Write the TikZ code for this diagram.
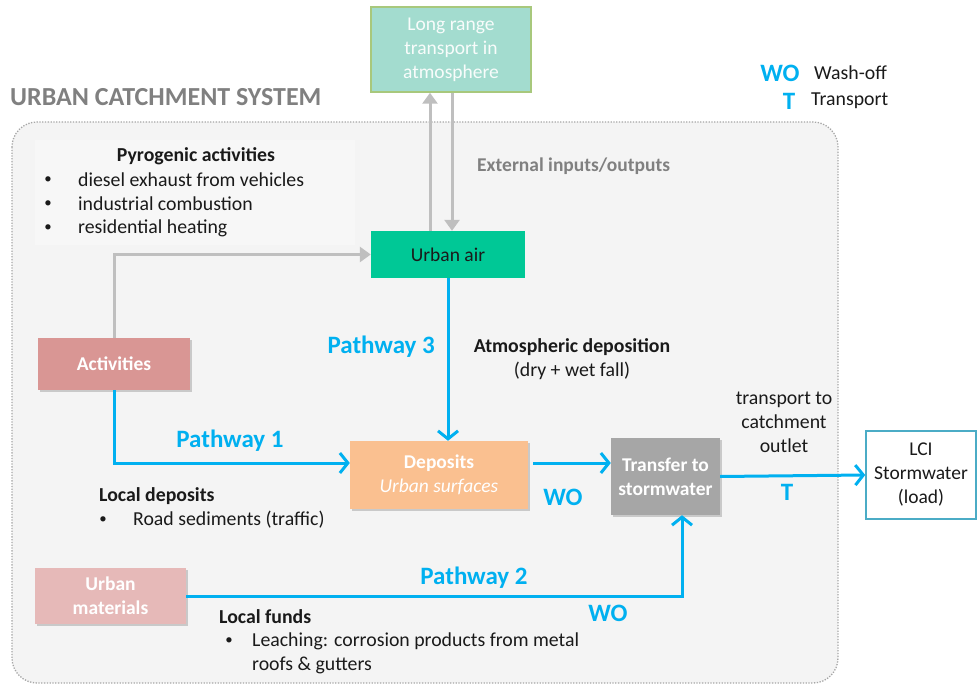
\documentclass[tikz,border=0pt]{standalone}
\usepackage{fontspec}
\setmainfont{Carlito}
\usetikzlibrary{arrows.meta}
\usetikzlibrary{positioning}
\usetikzlibrary{shadows}
\definecolor{pathblue}{HTML}{00B0F0}
\definecolor{arrowgray}{HTML}{BFBFBF}
\definecolor{areagray}{HTML}{F4F4F4}
\definecolor{linegray}{HTML}{A6A6A6}
\definecolor{titlegray}{HTML}{808080}
\definecolor{darktext}{HTML}{1A1A1A}
\definecolor{lrfill}{HTML}{A3DCCF}
\definecolor{lrdraw}{HTML}{A8C87C}
\definecolor{airfill}{HTML}{00C896}
\definecolor{actfill}{HTML}{D99694}
\definecolor{umfill}{HTML}{E6B9B8}
\definecolor{depfill}{HTML}{FAC090}
\definecolor{trfill}{HTML}{A6A6A6}
\definecolor{lcidraw}{HTML}{4BACC6}
\newcommand{\bul}{\scalebox{0.75}{\textbullet}}
\tikzset{box/.style = {inner sep=2pt, align=center,
                       font=\fontsize{19.5}{24}\selectfont}}
\tikzset{shadowbox/.style = {box, drop shadow={shadow xshift=2pt, shadow yshift=-2pt,
                                               opacity=0.3, fill=black!60}}}
\tikzset{txt/.style = {inner sep=0, text=darktext, font=\fontsize{19.8}{24}\selectfont}}
\tikzset{lbl/.style = {inner sep=0, text=pathblue, font=\fontsize{25}{30}\selectfont\bfseries}}
\tikzset{bluearrow/.style = {draw=pathblue, line width=3pt,
                             -{Straight Barb[length=8pt,width=20pt,line width=3pt]}}}
\tikzset{grayarrow/.style = {draw=arrowgray, line width=3pt,
                             -{Triangle[length=11pt,width=15pt]}}}

\begin{document}
\begin{tikzpicture}[x=1pt, y=-1pt]
      \useasboundingbox (0,0) rectangle (977,684);

      % catchment area
      \draw [draw=linegray, fill=areagray, line width=1.3pt, dash pattern=on 1.3pt off 1.5pt,
             rounded corners=25pt] (12,122) rectangle (838,683);
      \node [inner sep=0, anchor=west, text=titlegray, font=\fontsize{26}{30}\selectfont\bfseries]
        (title) at (10,97) {URBAN CATCHMENT SYSTEM};
      \fill [white, opacity=0.35] (35,140) rectangle (355,245);

      % boxes
      \node [box, fill=lrfill, draw=lrdraw, line width=1.5pt, text=white!92!lrfill,
             minimum width=160pt, minimum height=85pt] (lr) at (451,49.5)
        {Long range\\transport in\\atmosphere};
      \node [box, fill=airfill, text=darktext, minimum width=154pt, minimum height=47pt]
        (air) at (448,254.5) {Urban air};
      \node [shadowbox, fill=actfill, text=white, font=\fontsize{19.5}{24}\selectfont\bfseries,
             minimum width=152pt, minimum height=52pt] (act) at (114,364) {Activities};
      \node [shadowbox, fill=depfill, text=white, minimum width=178pt, minimum height=68pt]
        (dep) at (439,475) {\textbf{Deposits}\\\textit{Urban surfaces}};
      \node [shadowbox, fill=trfill, text=white, font=\fontsize{19.5}{24}\selectfont\bfseries,
             minimum width=109pt, minimum height=77pt] (tr) at (665.5,476.5)
        {Transfer to\\stormwater};
      \node [box, fill=white, draw=lcidraw, line width=1.5pt, text=darktext,
             minimum width=110pt, minimum height=88pt] (lci) at (921,475)
        {LCI\\Stormwater\\(load)};
      \node [shadowbox, fill=umfill, text=white, font=\fontsize{19.5}{24}\selectfont\bfseries,
             minimum width=151pt, minimum height=56pt] (um) at (110.5,596) {Urban\\materials};

      % gray connectors
      \draw [grayarrow] (act.north) |- (air.west);
      \draw [grayarrow] ([xshift=-18pt]air.north) -- ([xshift=-18pt]air.north |- lr.south);
      \draw [grayarrow] ([xshift=4pt]air.north |- lr.south) -- ([xshift=4pt]air.north);

      % blue pathways
      \draw [bluearrow] (air.south) -- (air.south |- dep.north);
      \draw [bluearrow] (act.south) |- ([yshift=12pt]dep.west);
      \draw [bluearrow] ([shift={(5pt,12pt)}]dep.east) -- ([yshift=12pt]dep.east -| tr.west);
      \draw [bluearrow] (tr.east) -- (lci.west);
      \draw [bluearrow] (um.east) -| ([xshift=16.5pt]tr.south);

      % labels
      \node [txt, anchor=west, text=titlegray, font=\fontsize{19.5}{24}\selectfont\bfseries]
        (ext) at (477,166) {External inputs/outputs};
      \node [lbl, anchor=east] (pw3) at (435,347) {Pathway 3};
      \node [txt, align=center] (atm) at (572,359)
        {\textbf{Atmospheric deposition}\\(dry + wet fall)};
      \node [lbl] (pw1) at (230,441) {Pathway 1};
      \node [lbl] (wo1) at (563,497) {WO};
      \node [txt, align=center] (outlet) at (784,422) {transport to\\catchment\\outlet};
      \node [lbl] (tlab) at (787,492) {T};
      \node [lbl] (pw2) at (474,578) {Pathway 2};
      \node [lbl] (wo2) at (608,613) {WO};

      % text blocks
      \node [txt, font=\fontsize{19.8}{24}\selectfont\bfseries] (pyro) at (196,156)
        {Pyrogenic activities};
      \node [txt] (pyroa) at (48,180) {\bul};
      \node [txt, anchor=west] (pyroat) at (78,180) {diesel exhaust from vehicles};
      \node [txt] (pyrob) at (48,204) {\bul};
      \node [txt, anchor=west] (pyrobt) at (78,204) {industrial combustion};
      \node [txt] (pyroc) at (48,228) {\bul};
      \node [txt, anchor=west] (pyroct) at (78,228) {residential heating};

      \node [txt, anchor=west, font=\fontsize{19.8}{24}\selectfont\bfseries] (locdep) at (99,496)
        {Local deposits};
      \node [txt] (locdepa) at (103,520) {\bul};
      \node [txt, anchor=west] (locdepat) at (133,520) {Road sediments (traffic)};

      \node [txt, anchor=west, font=\fontsize{19.8}{24}\selectfont\bfseries] (locfund) at (219,617)
        {Local funds};
      \node [txt] (locfunda) at (229,641) {\bul};
      \node [txt, anchor=west, align=left] (locfundat) at (252,653)
        {Leaching: corrosion products from metal\\roofs \& gutters};

      % legend
      \node [lbl] (legwo) at (780,73) {WO};
      \node [txt, anchor=west] (legwot) at (814,73) {Wash-off};
      \node [lbl] (legt) at (789,101) {T};
      \node [txt, anchor=west] (legtt) at (811,101) {Transport};
    \end{tikzpicture}
\end{document}
